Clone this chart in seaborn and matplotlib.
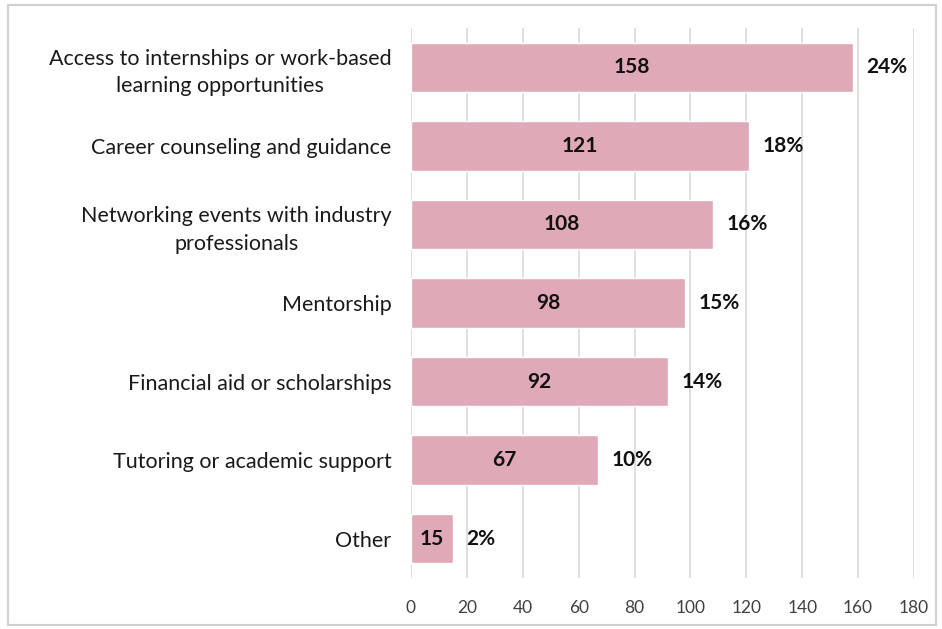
import matplotlib
matplotlib.use("Agg")
import matplotlib.pyplot as plt
import seaborn as sns
import pandas as pd
from matplotlib.patches import Rectangle

categories = [
    "Access to internships or work-based\nlearning opportunities",
    "Career counseling and guidance",
    "Networking events with industry\nprofessionals",
    "Mentorship",
    "Financial aid or scholarships",
    "Tutoring or academic support",
    "Other",
]
counts = [158, 121, 108, 98, 92, 67, 15]
percents = ["24%", "18%", "16%", "15%", "14%", "10%", "2%"]
x_ticks = [0, 20, 40, 60, 80, 100, 120, 140, 160, 180]

sns.set_theme(style="white")
plt.rcParams["font.family"] = ["Lato", "DejaVu Sans"]

df = pd.DataFrame({"category": categories, "count": counts})

fig = plt.figure(figsize=(9.42, 6.29), dpi=100)
ax = fig.add_axes([411 / 942, 1 - 578 / 629, (914 - 411) / 942, (578 - 28) / 629])

sns.barplot(data=df, y="category", x="count", color="#E0A9B7", saturation=1,
            width=0.63, ax=ax, order=categories)

ax.set_xlim(0, 180)
ax.set_xticks(x_ticks)
ax.set_xticklabels([str(t) for t in x_ticks], fontsize=12.5, color="#404040")
ax.grid(axis="x", color="#D9D9D9", linewidth=1.2)
ax.set_axisbelow(True)
for s in ax.spines.values():
    s.set_visible(False)
ax.set_xlabel("")
ax.set_ylabel("")
ax.tick_params(axis="y", length=0, pad=14, labelsize=15.5, labelcolor="#1a1a1a")
ax.tick_params(axis="x", length=0, pad=16)
for lbl in ax.get_yticklabels():
    lbl.set_multialignment("center")
    lbl.set_linespacing(1.45)

for i, (c, p) in enumerate(zip(counts, percents)):
    ax.text(c / 2, i, str(c), ha="center", va="center", fontsize=15,
            fontweight="bold", color="#111111")
    ax.text(c + 4.8, i, p, ha="left", va="center", fontsize=15,
            fontweight="bold", color="#111111")

fig.patches.append(Rectangle((8 / 942, 4 / 629), (936 - 8) / 942, (624 - 4) / 629,
                             transform=fig.transFigure, fill=False,
                             edgecolor="#D0D0D0", linewidth=1.5))

fig.savefig("out.png", dpi=100)
